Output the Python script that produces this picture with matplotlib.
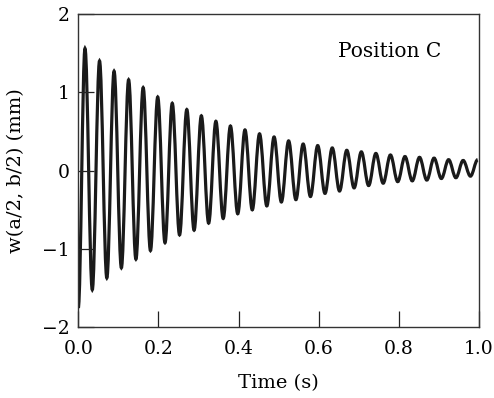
import numpy as np
import matplotlib
matplotlib.use("Agg")
import matplotlib.pyplot as plt
from matplotlib.path import Path
from matplotlib.patches import PathPatch

# Extrema (time in s, deflection in mm)
start_t = 0.0
start_w = -1.75

peak_t = [0.0167, 0.0530, 0.0893, 0.1256, 0.1619, 0.1982, 0.2345, 0.2708,
          0.3071, 0.3434, 0.3797, 0.4160, 0.4523, 0.4886, 0.5249, 0.5612,
          0.5975, 0.6338, 0.6701, 0.7064, 0.7427, 0.7790, 0.8153, 0.8516,
          0.8879, 0.9242, 0.9605, 0.9968]
peak_w = [1.56, 1.40, 1.27, 1.16, 1.06, 0.94, 0.86, 0.78,
          0.70, 0.63, 0.57, 0.52, 0.47, 0.43, 0.38, 0.34,
          0.32, 0.29, 0.26, 0.24, 0.22, 0.20, 0.18, 0.17,
          0.16, 0.14, 0.13, 0.14]

trough_t = [0.0349, 0.0712, 0.1075, 0.1438, 0.1801, 0.2164, 0.2527, 0.2890,
            0.3253, 0.3616, 0.3979, 0.4342, 0.4705, 0.5068, 0.5431, 0.5794,
            0.6157, 0.6520, 0.6883, 0.7246, 0.7609, 0.7972, 0.8335, 0.8698,
            0.9061, 0.9424, 0.9787]
trough_w = [-1.52, -1.37, -1.24, -1.13, -1.02, -0.92, -0.82, -0.76,
            -0.67, -0.61, -0.55, -0.50, -0.45, -0.40, -0.37, -0.33,
            -0.29, -0.26, -0.22, -0.19, -0.16, -0.14, -0.13, -0.12,
            -0.10, -0.09, -0.07]

x_ticks = [0.0, 0.2, 0.4, 0.6, 0.8, 1.0]
y_ticks = [-2, -1, 0, 1, 2]

plt.rcParams["font.family"] = ["DejaVu Serif"]

fig = plt.figure(figsize=(4.94, 3.98), dpi=100)
ax = fig.add_axes([0.1585, 0.1776, 0.8111, 0.7872])

# merge extrema in time order
pts = [(start_t, start_w)]
for i in range(len(peak_t)):
    pts.append((peak_t[i], peak_w[i]))
    if i < len(trough_t):
        pts.append((trough_t[i], trough_w[i]))

# smooth curve through the extrema with horizontal tangents (cubic bezier)
verts = [pts[0]]
codes = [Path.MOVETO]
for (ta, wa), (tb, wb) in zip(pts[:-1], pts[1:]):
    dt = tb - ta
    verts += [(ta + 0.36 * dt, wa), (tb - 0.36 * dt, wb), (tb, wb)]
    codes += [Path.CURVE4] * 3
ax.add_patch(PathPatch(Path(verts, codes), facecolor="none",
                       edgecolor="#1a1a1a", linewidth=2.3))

ax.set_xlim(0, 1.0)
ax.set_ylim(-2, 2)
ax.set_xticks(x_ticks)
ax.set_yticks(y_ticks)
ax.set_xticklabels([f"{v:.1f}" for v in x_ticks])
ax.set_yticklabels(["\u22122", "\u22121", "0", "1", "2"])
ax.tick_params(direction="in", length=11.5, width=0.9, labelsize=13.5,
               pad=6, color="#222")
ax.tick_params(axis="x", pad=9)
for s in ax.spines.values():
    s.set_linewidth(1.0)
    s.set_color("#333")

ax.set_xlabel("Time (s)", fontsize=14, labelpad=12)
ax.set_ylabel("w(a/2, b/2) (mm)", fontsize=14, labelpad=12)
ax.text(0.778, 1.52, "Position C", fontsize=14.5, ha="center", va="center")

fig.savefig("out.png", dpi=100)
